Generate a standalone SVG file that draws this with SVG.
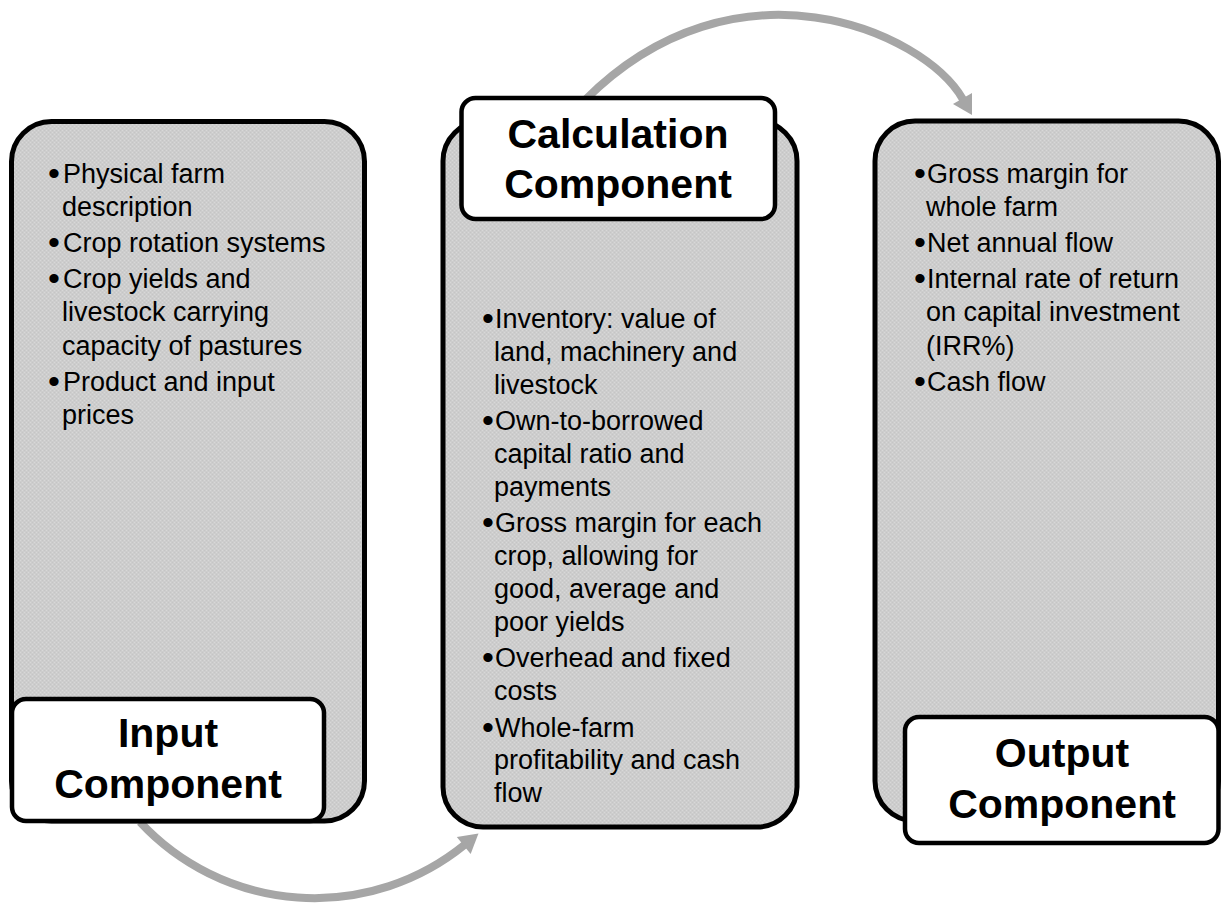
<svg xmlns="http://www.w3.org/2000/svg" width="1221" height="903" viewBox="0 0 1221 903">
<defs>
<pattern id="dots" width="4" height="4" patternUnits="userSpaceOnUse">
<rect width="4" height="4" fill="#cdcdcd"/>
<rect x="0" y="0" width="1" height="1" fill="#d8d8d8"/>
<rect x="2" y="2" width="1" height="1" fill="#d8d8d8"/>
<rect x="2" y="0" width="1" height="1" fill="#c5c5c5"/>
<rect x="0" y="2" width="1" height="1" fill="#c5c5c5"/>
</pattern>
<marker id="arrow" markerUnits="userSpaceOnUse" markerWidth="24" markerHeight="26" viewBox="0 -13 22 26" refX="1" refY="0" orient="auto">
<path d="M0,-11 L19,0 L0,11 z" fill="#a6a6a6"/>
</marker>
<style>
.panel{fill:url(#dots);stroke:#000;stroke-width:5}
.label{fill:#fff;stroke:#000;stroke-width:4.5}
.conn{fill:none;stroke:#a6a6a6;stroke-width:8;marker-end:url(#arrow)}
.item{font-family:"Liberation Sans",Arial,sans-serif;font-size:27px;fill:#000}
.b{font-size:34px}
.title{font-family:"Liberation Sans",Arial,sans-serif;font-size:41px;font-weight:bold;fill:#000;text-anchor:middle}
</style>
</defs>
<rect width="1221" height="903" fill="#fff"/>
<g id="connectors">
<path class="conn" d="M140,822 A238,238 0 0 0 464.5,844.9"/>
<path class="conn" d="M585,100 C735,-50 923,30.1 963,99.4"/>
</g>
<g id="input">
<rect class="panel" x="11.5" y="121.5" width="353" height="699.5" rx="40"/>
<text class="item"><tspan class="b" x="48" y="185">•</tspan><tspan x="63" y="183">Physical farm</tspan><tspan x="62" y="216">description</tspan><tspan class="b" x="48" y="254">•</tspan><tspan x="63" y="252">Crop rotation systems</tspan><tspan class="b" x="48" y="290">•</tspan><tspan x="63" y="288">Crop yields and</tspan><tspan x="62" y="321">livestock carrying</tspan><tspan x="62" y="355">capacity of pastures</tspan><tspan class="b" x="48" y="393">•</tspan><tspan x="63" y="391">Product and input</tspan><tspan x="62" y="424">prices</tspan></text>
<rect class="label" x="12" y="699" width="312" height="122" rx="14"/>
<text class="title"><tspan x="168" y="747">Input</tspan><tspan x="168" y="798">Component</tspan></text>
</g>
<g id="calculation">
<rect class="panel" x="443" y="121" width="354" height="706" rx="40"/>
<text class="item"><tspan class="b" x="482" y="330">•</tspan><tspan x="495" y="328">Inventory: value of</tspan><tspan x="494" y="361">land, machinery and</tspan><tspan x="494" y="394">livestock</tspan><tspan class="b" x="482" y="432">•</tspan><tspan x="495" y="430">Own-to-borrowed</tspan><tspan x="494" y="463">capital ratio and</tspan><tspan x="494" y="496">payments</tspan><tspan class="b" x="482" y="534">•</tspan><tspan x="495" y="532">Gross margin for each</tspan><tspan x="494" y="565">crop, allowing for</tspan><tspan x="494" y="598">good, average and</tspan><tspan x="494" y="631">poor yields</tspan><tspan class="b" x="482" y="669">•</tspan><tspan x="495" y="667">Overhead and fixed</tspan><tspan x="494" y="700">costs</tspan><tspan class="b" x="482" y="739">•</tspan><tspan x="495" y="737">Whole-farm</tspan><tspan x="494" y="769">profitability and cash</tspan><tspan x="494" y="802">flow</tspan></text>
<rect class="label" x="461.5" y="98" width="313.5" height="121" rx="14"/>
<text class="title"><tspan x="618" y="148">Calculation</tspan><tspan x="618" y="198">Component</tspan></text>
</g>
<g id="output">
<rect class="panel" x="875" y="121" width="343.5" height="700" rx="40"/>
<text class="item"><tspan class="b" x="914" y="185">•</tspan><tspan x="927" y="183">Gross margin for</tspan><tspan x="926" y="216">whole farm</tspan><tspan class="b" x="914" y="254">•</tspan><tspan x="927" y="252">Net annual flow</tspan><tspan class="b" x="914" y="290">•</tspan><tspan x="927" y="288">Internal rate of return</tspan><tspan x="926" y="321">on capital investment</tspan><tspan x="926" y="355">(IRR%)</tspan><tspan class="b" x="914" y="393">•</tspan><tspan x="927" y="391">Cash flow</tspan></text>
<rect class="label" x="905" y="717" width="313.5" height="126" rx="14"/>
<text class="title"><tspan x="1062" y="767">Output</tspan><tspan x="1062" y="818">Component</tspan></text>
</g>
</svg>
